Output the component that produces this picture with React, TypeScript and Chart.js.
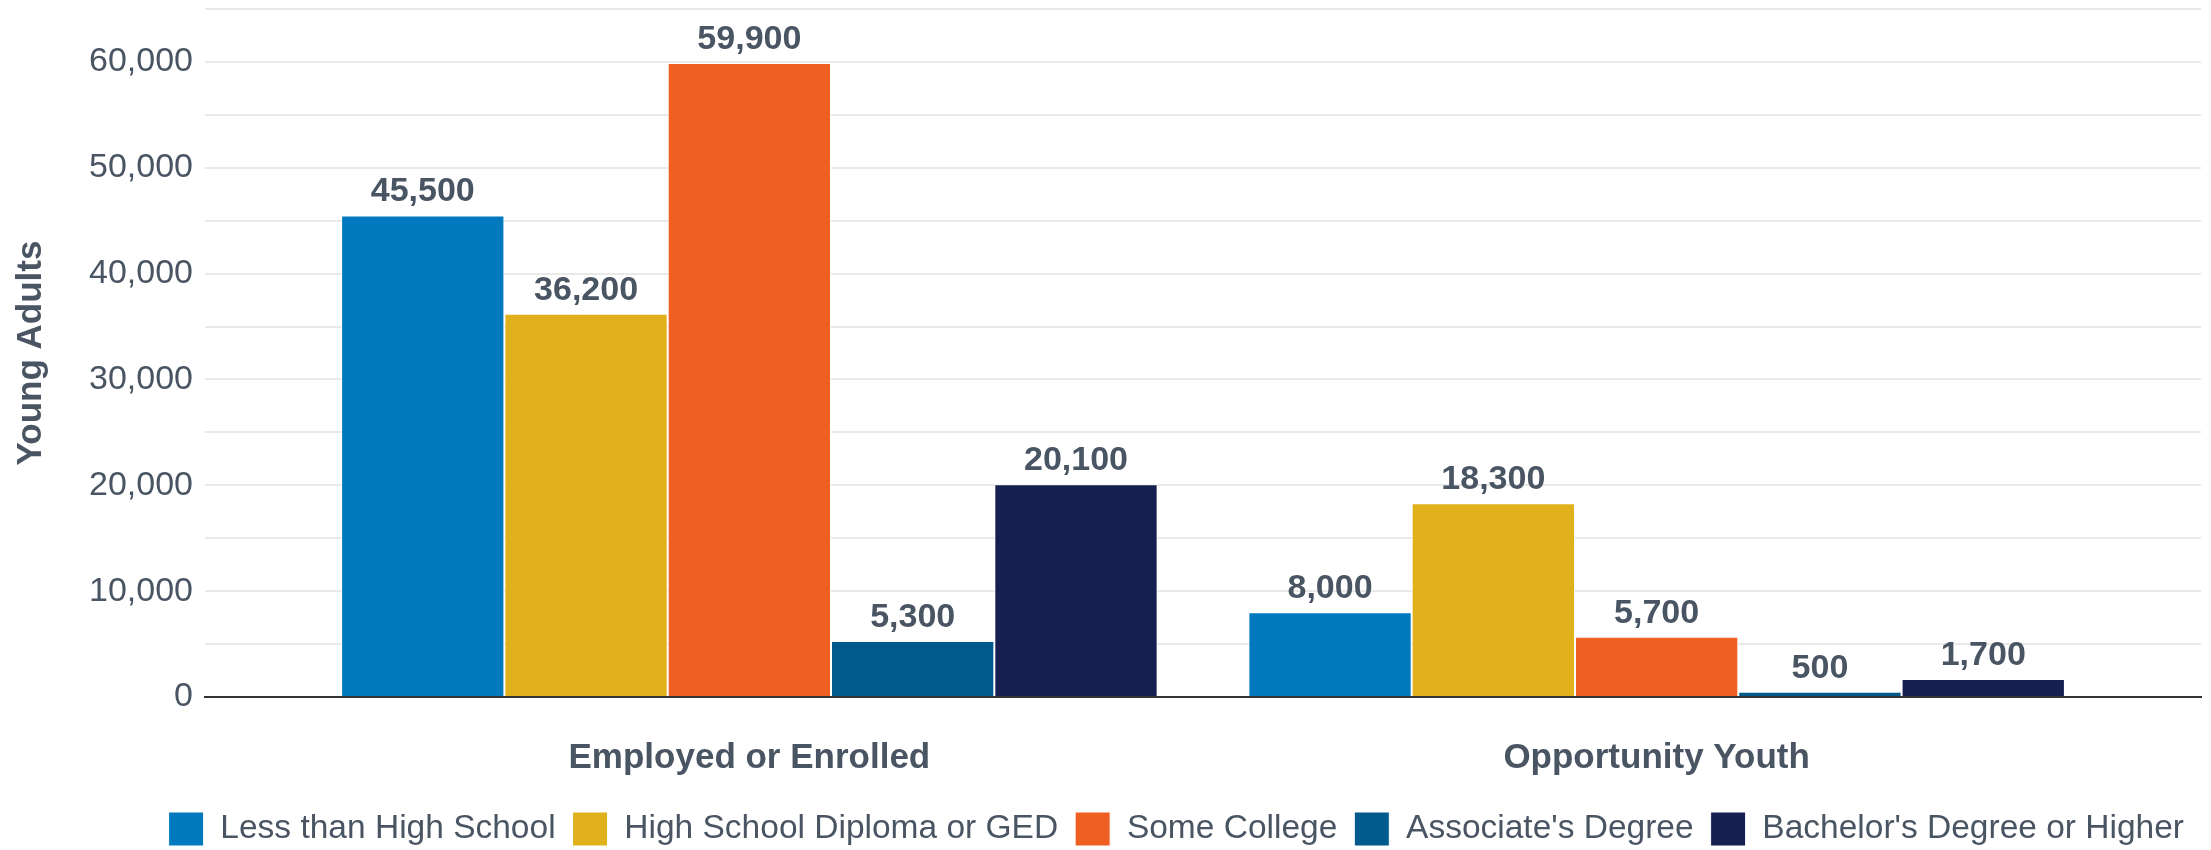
import React, { useEffect, useRef } from 'react';
import { Chart, registerables } from 'chart.js';

Chart.register(...registerables);

// ---- data ----
const categories = ['Employed or Enrolled', 'Opportunity Youth'];
const seriesNames = [
  'Less than High School',
  'High School Diploma or GED',
  'Some College',
  "Associate's Degree",
  "Bachelor's Degree or Higher",
];
const lessThanHighSchool = [45500, 8000];
const highSchoolDiploma = [36200, 18300];
const someCollege = [59900, 5700];
const associatesDegree = [5300, 500];
const bachelorsOrHigher = [20100, 1700];
const seriesValues = [lessThanHighSchool, highSchoolDiploma, someCollege, associatesDegree, bachelorsOrHigher];
const seriesColors = ['#0079be', '#e1b11c', '#f05f22', '#005a8c', '#171f50'];
const yAxisTitle = 'Young Adults';
const yMax = 65000;
const yStep = 5000;
const yLabelStep = 10000;

const TEXT = '#4a5563';
const FONT = '"Liberation Sans", Arial, Helvetica, sans-serif';

const valueLabels = {
  id: 'valueLabels',
  afterDatasetsDraw(chart: any) {
    const ctx = chart.ctx;
    ctx.save();
    ctx.font = `bold 34px ${FONT}`;
    ctx.fillStyle = TEXT;
    ctx.textAlign = 'center';
    ctx.textBaseline = 'alphabetic';
    chart.data.datasets.forEach((ds: any, di: number) => {
      const meta = chart.getDatasetMeta(di);
      meta.data.forEach((el: any, i: number) => {
        const v = ds.data[i].y as number;
        ctx.fillText(v.toLocaleString('en-US'), el.x, el.y - 14);
      });
    });
    ctx.restore();
  },
};

export default function App() {
  const ref = useRef<HTMLCanvasElement | null>(null);

  useEffect(() => {
    if (!ref.current) return;
    Chart.defaults.font.family = FONT;
    const chart = new Chart(ref.current, {
      type: 'bar',
      data: {
        datasets: seriesNames.map((name, si) => ({
          label: name,
          data: seriesValues[si].map((v, i) => ({ x: i, y: v })),
          backgroundColor: seriesColors[si],
          borderColor: '#ffffff',
          borderWidth: 1,
          barPercentage: 1,
          categoryPercentage: 0.9,
        })),
      },
      options: {
        responsive: false,
        animation: false,
        layout: { padding: { top: 9, right: 10, bottom: -6, left: 0 } },
        plugins: {
          tooltip: { enabled: false },
          legend: {
            position: 'bottom',
            align: 'end',
            labels: {
              color: TEXT,
              font: { size: 33.5, family: FONT },
              boxWidth: 35,
              boxHeight: 34,
              padding: 17,
            },
          },
        },
        scales: {
          x: {
            type: 'linear',
            min: -0.6,
            max: 1.6,
            offset: false,
            grid: { display: false, drawTicks: false },
            border: { display: true, color: '#333333', width: 2 },
            afterBuildTicks: (axis: any) => {
              axis.ticks = categories.map((_, i) => ({ value: i }));
            },
            afterFit: (axis: any) => {
              axis.height = 98;
              axis.paddingLeft = 0;
              axis.paddingRight = 0;
            },
            ticks: {
              color: TEXT,
              padding: 40,
              autoSkip: false,
              maxRotation: 0,
              font: { size: 35, weight: 'bold', family: FONT },
              callback: (v: any) => categories[v as number] ?? '',
            },
          },
          y: {
            min: 0,
            max: yMax,
            grid: {
              drawTicks: false,
              color: (c: any) => (c.tick && c.tick.value === 0 ? 'rgba(0,0,0,0)' : '#e9e9e9'),
              lineWidth: 2,
            },
            border: { display: false },
            afterFit: (axis: any) => {
              axis.width = 205;
              axis.paddingTop = 0;
              axis.paddingBottom = 0;
            },
            title: {
              display: true,
              text: yAxisTitle,
              color: TEXT,
              font: { size: 35, weight: 'bold', family: FONT },
              padding: { top: 10, bottom: 0 },
            },
            ticks: {
              stepSize: yStep,
              color: TEXT,
              padding: 12,
              font: { size: 34, family: FONT },
              callback: (v: any) => ((v as number) % yLabelStep === 0 ? (v as number).toLocaleString('en-US') : ''),
            },
          },
        },
      },
      plugins: [valueLabels],
    } as any);
    return () => chart.destroy();
  }, []);

  return (
    <div style={{ position: 'absolute', left: 0, top: 0, width: 2211, height: 850, background: '#ffffff' }}>
      <canvas ref={ref} width={2211} height={850} style={{ display: 'block' }} />
    </div>
  );
}
